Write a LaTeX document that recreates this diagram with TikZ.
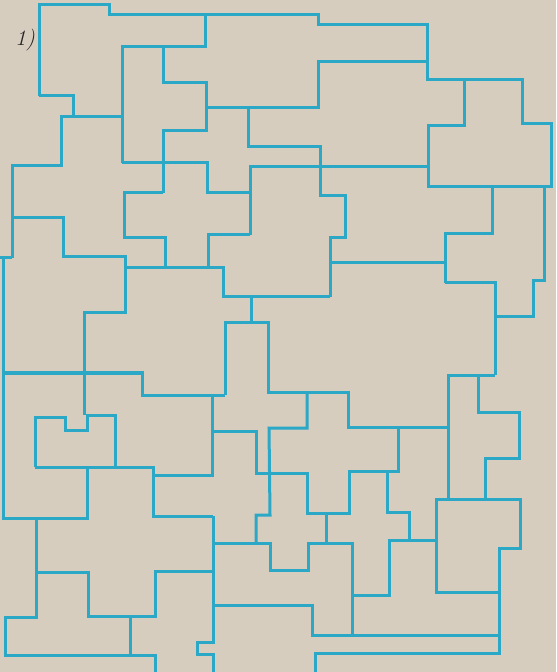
\documentclass[tikz,border=0pt]{standalone}
\usepackage{xcolor}
\usepackage{tikz}
\definecolor{paper}{RGB}{214,205,190}
\definecolor{ink}{RGB}{42,168,198}
\begin{document}
\begin{tikzpicture}[
    x=0.5pt, y=-0.5pt,
    wall/.style={draw=ink, line width=1.5pt, line join=miter},
    tag/.style={font=\fontsize{11}{13}\selectfont\itshape, text=black!85}
  ]
  \fill[paper] (0,0) rectangle (556,672);
  \useasboundingbox (0,0) rectangle (556,672);
  % Label
  \node[tag] (num) at (25,40) {1)};
  % Top rows
  \draw[wall] (39,96) -- (39,5) -- (109,5) -- (109,15) -- (318,15) -- (318,25) -- (427,25) -- (427,80)
    -- (522,80) -- (522,124) -- (551,124) -- (551,187) -- (428,187) -- (428,126) -- (464,126) -- (464,80);
  \draw[wall] (39,96) -- (73,96) -- (73,117);
  \draw[wall] (12,258) -- (12,166) -- (61,166) -- (61,117) -- (122,117);
  \draw[wall] (122,163) -- (122,47) -- (205,47) -- (205,15);
  \draw[wall] (163,47) -- (163,83) -- (206,83) -- (206,131) -- (163,131) -- (163,193);
  \draw[wall] (206,108) -- (318,108) -- (318,62) -- (427,62);
  \draw[wall] (248,108) -- (248,147) -- (320,147) -- (320,196) -- (345,196) -- (345,238) -- (330,238) -- (330,297);
  \draw[wall] (250,235) -- (250,167) -- (428,167);
  \draw[wall] (122,163) -- (207,163) -- (207,193) -- (250,193);
  \draw[wall] (163,193) -- (124,193) -- (124,238) -- (165,238) -- (165,268);
  \draw[wall] (250,235) -- (208,235) -- (208,268);
  % Middle rows
  \draw[wall] (12,218) -- (63,218) -- (63,257) -- (125,257) -- (125,313) -- (84,313) -- (84,415);
  \draw[wall] (125,268) -- (223,268) -- (223,297) -- (330,297);
  \draw[wall] (251,297) -- (251,323);
  \draw[wall] (225,395) -- (225,323) -- (268,323) -- (268,392) -- (348,392) -- (348,427) -- (448,427);
  \draw[wall] (3,373) -- (142,373) -- (142,395) -- (225,395);
  \draw[wall] (0,258) -- (12,258);
  \draw[wall] (3,258) -- (3,518) -- (87,518) -- (87,467);
  \draw[wall] (35,467) -- (35,417) -- (65,417) -- (65,430) -- (87,430) -- (87,415) -- (115,415) -- (115,467);
  \draw[wall] (35,467) -- (153,467) -- (153,516) -- (213,516);
  \draw[wall] (153,475) -- (212,475) -- (212,395);
  \draw[wall] (212,431) -- (256,431) -- (256,473) -- (307,473) -- (307,513) -- (349,513) -- (349,471) -- (398,471) -- (398,427);
  \draw[wall] (307,392) -- (307,428) -- (269,428) -- (270,515) -- (256,515) -- (256,543);
  \draw[wall] (330,263) -- (445,263);
  \draw[wall] (445,283) -- (445,234) -- (492,234) -- (492,187);
  \draw[wall] (445,283) -- (495,283) -- (495,375);
  \draw[wall] (495,317) -- (533,317) -- (533,281) -- (544,281) -- (544,187);
  \draw[wall] (448,499) -- (448,375) -- (495,375);
  \draw[wall] (478,375) -- (478,412) -- (519,412) -- (519,458) -- (485,458) -- (485,499);
  % Bottom rows
  \draw[wall] (213,516) -- (213,642) -- (197,642) -- (197,654) -- (213,654) -- (213,672);
  \draw[wall] (213,543) -- (270,543) -- (270,570) -- (308,570) -- (308,543) -- (352,543) -- (352,635);
  \draw[wall] (326,513) -- (326,543);
  \draw[wall] (213,605) -- (312,605) -- (312,635) -- (499,635);
  \draw[wall] (315,672) -- (315,653) -- (499,653) -- (499,548) -- (520,548) -- (520,499) -- (436,499) -- (436,592) -- (499,592);
  \draw[wall] (352,595) -- (389,595) -- (389,540) -- (436,540);
  \draw[wall] (409,540) -- (409,512) -- (387,512) -- (387,471);
  \draw[wall] (36,518) -- (36,617) -- (5,617) -- (5,655) -- (155,655) -- (155,672);
  \draw[wall] (36,572) -- (88,572) -- (88,616) -- (155,616) -- (155,571) -- (213,571);
  \draw[wall] (130,616) -- (130,655);
\end{tikzpicture}
\end{document}
